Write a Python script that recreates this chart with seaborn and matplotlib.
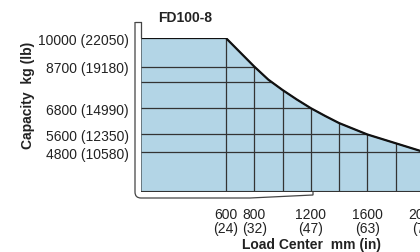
import matplotlib
matplotlib.use("Agg")
import matplotlib.pyplot as plt
import seaborn as sns
from matplotlib.patches import Polygon
from matplotlib.lines import Line2D
from matplotlib.path import Path
from matplotlib.patches import PathPatch

# values
load_center = [0, 600, 700, 800, 900, 1000, 1100, 1200, 1300, 1400, 1500, 1600, 1700, 1800, 1900, 2000]
capacity = [10000, 10000, 9350, 8700, 8100, 7630, 7200, 6800, 6450, 6120, 5860, 5600, 5400, 5200, 5000, 4800]

ytick_vals = [10000, 8700, 6800, 5600, 4800]
ytick_labels = ["10000 (22050)", "8700 (19180)", "6800 (14990)", "5600 (12350)", "4800 (10580)"]
xtick_vals = [600, 800, 1200, 1600, 2000]
xtick_labels = ["600\n(24)", "800\n(32)", "1200\n(47)", "1600\n(63)", "2000\n(79)"]
hgrid = [4800, 5600, 6800, 8000, 8700]
vgrid = [600, 800, 1000, 1200, 1400, 1600, 1800]
y_min = 3000

sns.set_style("white")
plt.rcParams["font.family"] = ["Liberation Sans", "DejaVu Sans"]

W, H = 420, 253
fig = plt.figure(figsize=(W / 100, H / 100), dpi=100)
# blue area spans x 141..424 px, y 39..192.5 px
ax = fig.add_axes([141 / W, (H - 192.5) / H, 283 / W, 153.5 / H])
ax.set_xlim(0, 2000)
ax.set_ylim(y_min, 10000)

fill_col = "#b3d5e6"
grid_col = "#333333"
text_col = "#222222"

# filled capacity region
poly = Polygon([(load_center[0], y_min)] + list(zip(load_center, capacity)) + [(load_center[-1], y_min)],
               closed=True, facecolor=fill_col, edgecolor=grid_col, linewidth=0.8, zorder=1)
ax.add_patch(poly)

# grid lines clipped to the filled region
hl = ax.hlines(hgrid, 0, 2000, colors=grid_col, linewidth=0.9, zorder=2)
vl = ax.vlines(vgrid, y_min, 10000, colors=grid_col, linewidth=0.9, zorder=2)
hl.set_clip_path(poly)
vl.set_clip_path(poly)

# capacity curve
sns.lineplot(x=load_center, y=capacity, ax=ax, color="#111111", linewidth=1.6, zorder=3)

for s in ax.spines.values():
    s.set_visible(False)

ax.set_yticks(ytick_vals)
ax.set_yticklabels(ytick_labels, fontsize=10, color=text_col)
ax.set_xticks(xtick_vals)
ax.set_xticklabels(xtick_labels, fontsize=10, color=text_col)
for lab in ax.get_xticklabels():
    lab.set_linespacing(1.0)
ax.tick_params(axis="y", length=0, pad=9)
ax.tick_params(axis="x", length=0, pad=11)
ax.set_xlabel("")
ax.set_ylabel("")

# bracket frame around the chart (pixel coords -> figure fraction)
def fx(px):
    return px / W

def fy(py):
    return (H - py) / H

verts = [(fx(135), fy(23)), (fx(135), fy(193)), (fx(135), fy(199)), (fx(141), fy(199)),
         (fx(250), fy(199)), (fx(313), fy(196)), (fx(313), fy(193))]
codes = [Path.MOVETO, Path.LINETO, Path.CURVE3, Path.CURVE3,
         Path.LINETO, Path.LINETO, Path.LINETO]
frame = PathPatch(Path(verts, codes), transform=fig.transFigure, facecolor="none",
                  edgecolor="#444444", linewidth=0.9)
fig.patches.append(frame)
fig.add_artist(Line2D([fx(135), fx(141)], [fy(23), fy(23)], transform=fig.transFigure,
                      color="#444444", linewidth=0.9))
fig.add_artist(Line2D([fx(141), fx(141)], [fy(23), fy(39)], transform=fig.transFigure,
                      color="#444444", linewidth=0.9))

fig.text(fx(185), fy(18), "FD100-8", fontsize=10, fontweight="bold", ha="center", va="center", color=text_col)
fig.text(fx(312), fy(245), "Load Center  mm (in)", fontsize=10, fontweight="bold",
         ha="center", va="center", color=text_col)
fig.text(fx(28), fy(95), "Capacity  kg (lb)", fontsize=10, fontweight="bold",
         ha="center", va="center", rotation=90, color=text_col)

fig.savefig("out.png", dpi=100)
